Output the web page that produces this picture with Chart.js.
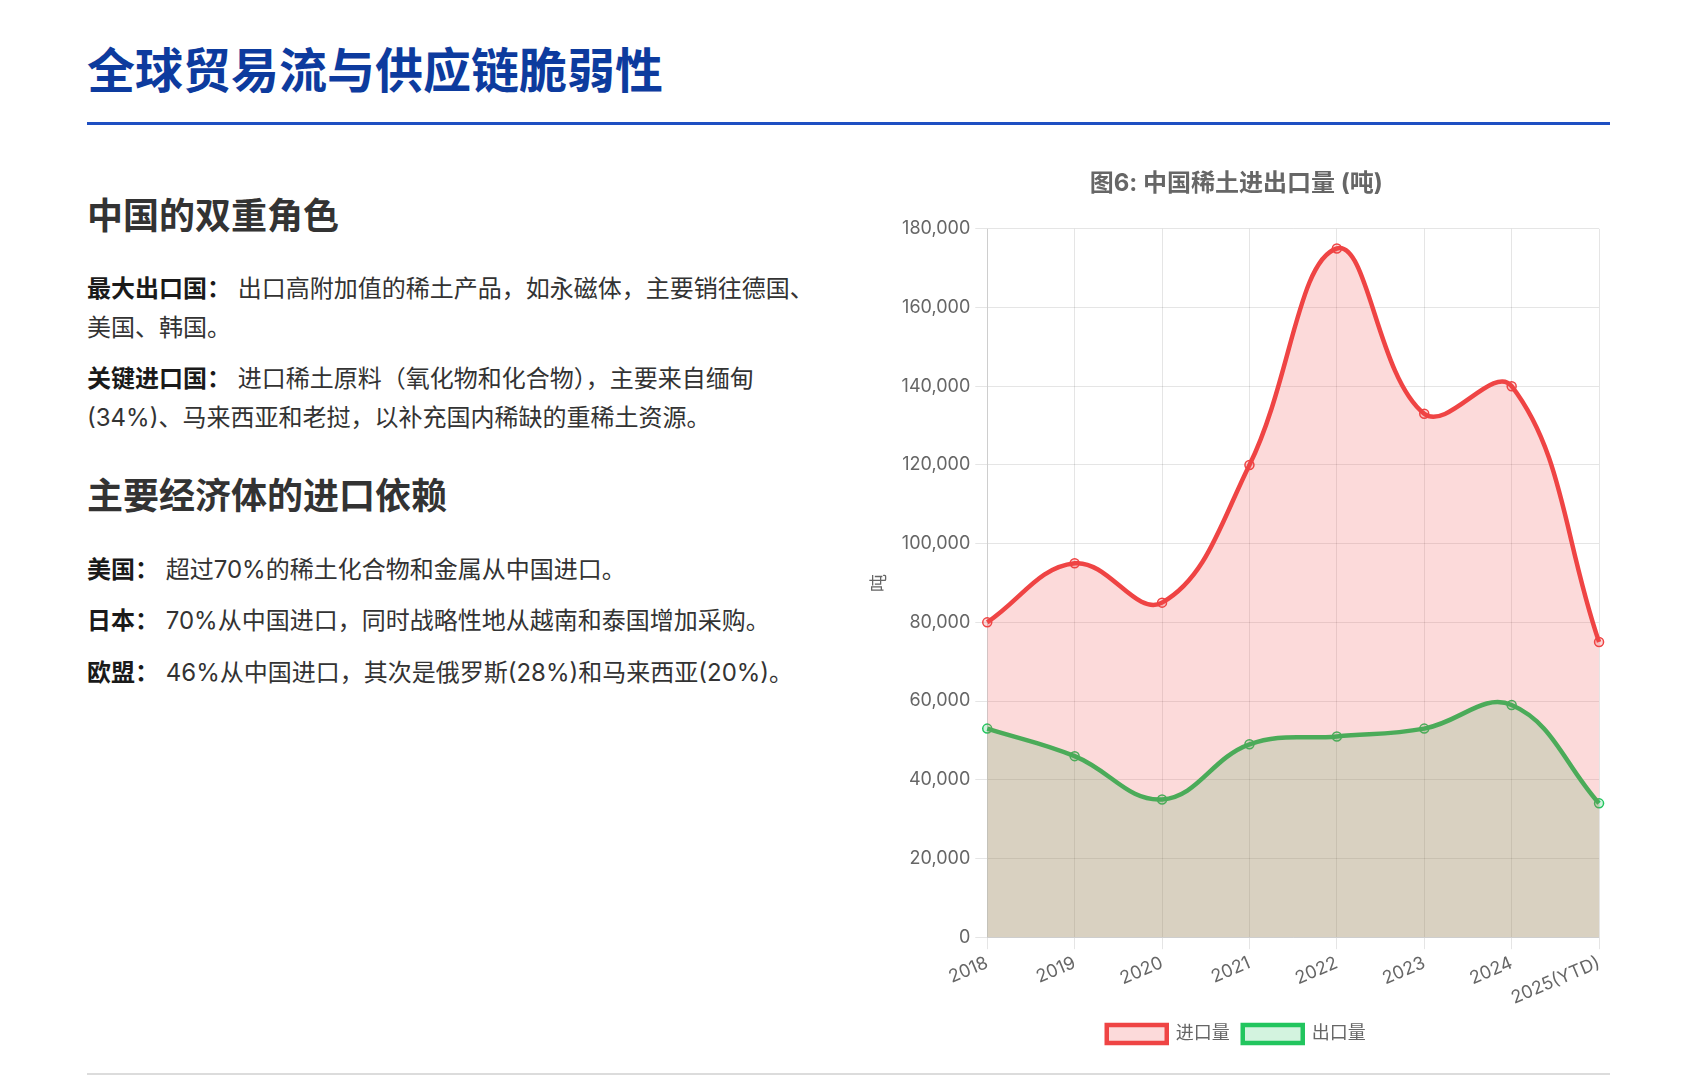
<!DOCTYPE html>
<html lang="zh-CN">
<head>
<meta charset="utf-8">
<title>全球贸易流与供应链脆弱性</title>
<script src="https://cdn.jsdelivr.net/npm/chart.js@4.4.1/dist/chart.umd.min.js"></script>
<style>
  html, body { margin: 0; padding: 0; background: #fff; }
  body {
    width: 1696px; height: 1080px; overflow: hidden; position: relative;
    font-family: Inter, "Noto Sans CJK SC", "Noto Sans", sans-serif; color: #333;
  }
  .page { padding: 0 86px 0 87px; }
  h1 {
    margin: 0; padding: 39px 0 25px; font-size: 48px; line-height: 57.6px;
    font-weight: 700; color: #0d3b9e; border-bottom: 3px solid #1e4fc2;
    font-family: "Noto Sans CJK SC", sans-serif;
  }
  .cols { display: grid; grid-template-columns: 1fr 1fr; column-gap: 32px; }
  h2 { margin: 0 0 34px; font-size: 36px; line-height: 46.8px; font-weight: 700; color: #333;
       font-family: "Noto Sans CJK SC", sans-serif; }
  .left h2:first-child { margin-top: 65px; }
  .left p + h2 { margin-top: 33px; }
  p { margin: 0 0 13px; font-size: 24px; line-height: 38.4px; color: #333; }
  p b { color: #1a1a1a; font-weight: 700; }
  .chart-box { position: relative; height: 899px; margin-top: 29px; }
  .foot { position: absolute; left: 87px; right: 86px; top: 1073px; height: 2px; background: #dcdcdc; }
</style>
</head>
<body>
<div class="page">
  <h1>全球贸易流与供应链脆弱性</h1>
  <div class="cols">
    <div class="left">
      <h2>中国的双重角色</h2>
      <p><b>最大出口国：</b> 出口高附加值的稀土产品，如永磁体，主要销往德国、美国、韩国。</p>
      <p><b>关键进口国：</b> 进口稀土原料（氧化物和化合物），主要来自缅甸(34%)、马来西亚和老挝，以补充国内稀缺的重稀土资源。</p>
      <h2>主要经济体的进口依赖</h2>
      <p><b>美国：</b> 超过70%的稀土化合物和金属从中国进口。</p>
      <p><b>日本：</b> 70%从中国进口，同时战略性地从越南和泰国增加采购。</p>
      <p><b>欧盟：</b> 46%从中国进口，其次是俄罗斯(28%)和马来西亚(20%)。</p>
    </div>
    <div class="right">
      <div class="chart-box"><canvas id="chart"></canvas></div>
    </div>
  </div>
</div>
<div class="foot"></div>

<script>
// data (tonnes)
const years = ["2018", "2019", "2020", "2021", "2022", "2023", "2024", "2025(YTD)"];
const importTonnes = [80000, 95000, 85000, 120000, 175000, 133000, 140000, 75000];
const exportTonnes = [53000, 46000, 35000, 49000, 51000, 53000, 59000, 34000];
const seriesNames = ["进口量", "出口量"];

const grey = "#666";
const gridColor = "rgba(0, 0, 0, 0.1)";

Chart.defaults.font.family = "Inter, 'Noto Sans CJK SC', sans-serif";

function lineSet(label, values, rgb) {
  return {
    label: label,
    data: values,
    borderColor: "rgb(" + rgb + ")",
    backgroundColor: "rgba(" + rgb + ", 0.2)",
    borderWidth: 4.5,
    fill: true,
    tension: 0.4,
    pointRadius: 4.5,
    pointBorderWidth: 1.5
  };
}

new Chart(document.getElementById("chart"), {
  type: "line",
  data: {
    labels: years,
    datasets: [
      lineSet(seriesNames[0], importTonnes, "239, 68, 68"),
      lineSet(seriesNames[1], exportTonnes, "34, 197, 94")
    ]
  },
  options: {
    responsive: true,
    maintainAspectRatio: false,
    animation: false,
    layout: { padding: { right: 3 } },
    plugins: {
      title: {
        display: true,
        text: "图6: 中国稀土进出口量 (吨)",
        color: grey,
        font: { size: 24, weight: "bold" },
        padding: { top: 15, bottom: 31 }
      },
      legend: {
        position: "bottom",
        labels: { color: grey, font: { size: 18 }, boxWidth: 60, boxHeight: 18, padding: 13 }
      },
      tooltip: { enabled: false }
    },
    scales: {
      x: {
        grid: { color: gridColor, tickLength: 12 },
        ticks: { color: grey, font: { size: 18 }, maxRotation: 23, minRotation: 23, padding: 3 }
      },
      y: {
        min: 0,
        max: 180000,
        grid: { color: gridColor, tickLength: 12 },
        ticks: { color: grey, font: { size: 18 }, stepSize: 20000, padding: 5 },
        title: { display: true, text: "吨", color: grey, font: { size: 18 }, padding: { top: 4, bottom: 6 } }
      }
    }
  }
});
</script>
</body>
</html>
